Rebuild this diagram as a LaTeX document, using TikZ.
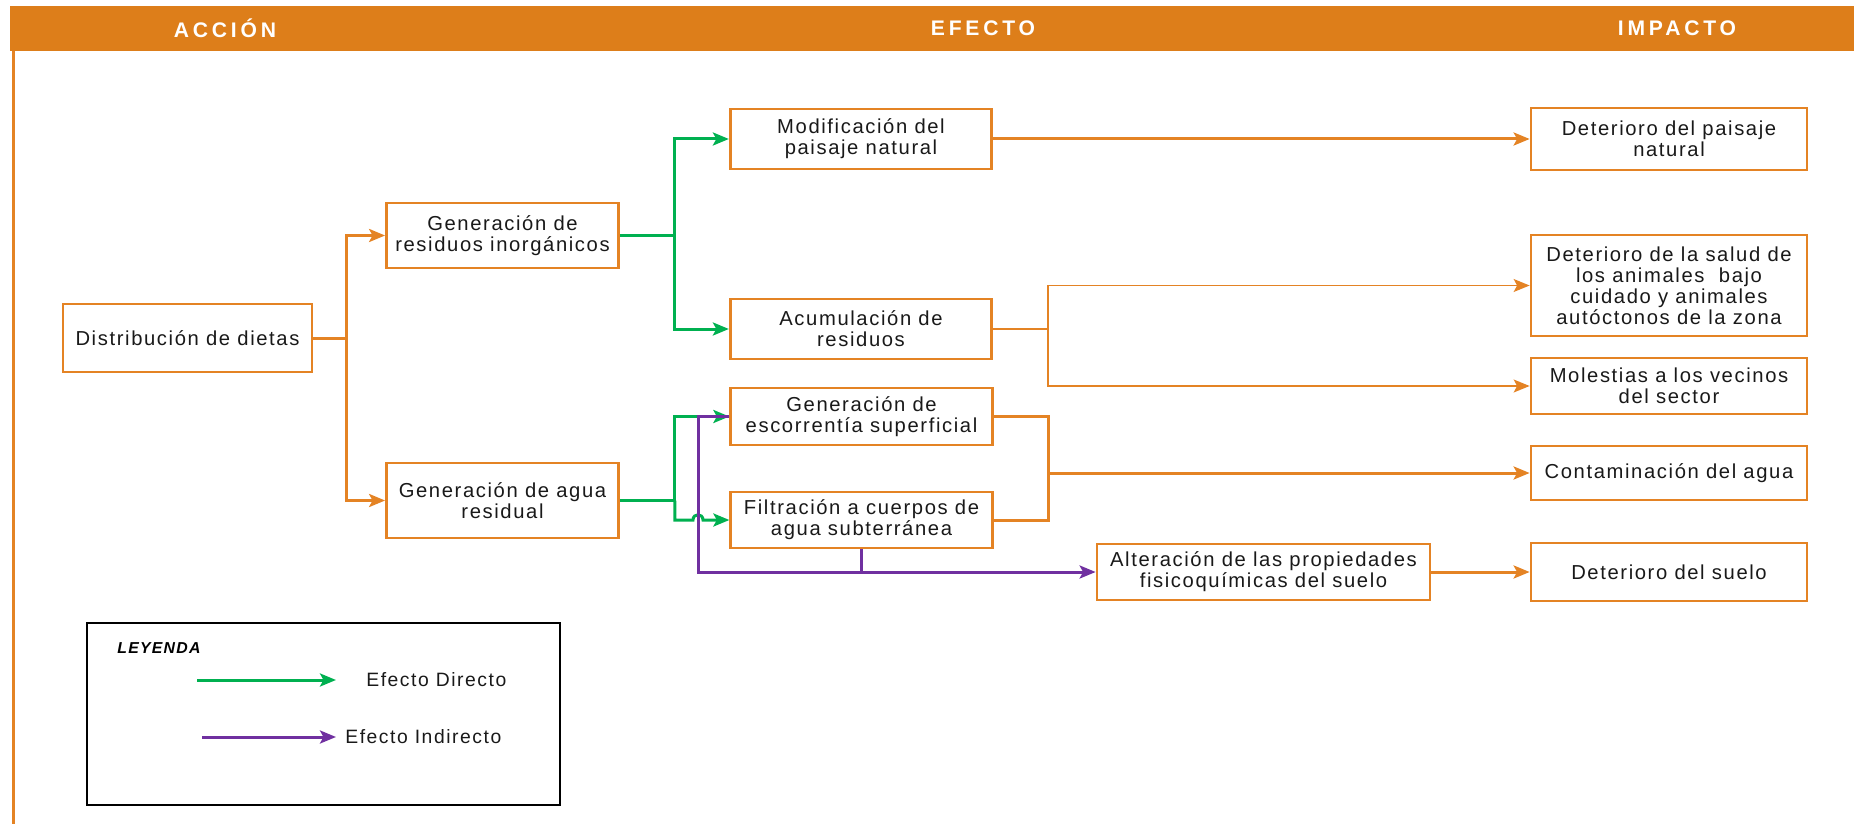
\documentclass[tikz,border=0pt]{standalone}
\usepackage{fontspec}
\setmainfont{Liberation Sans}[LetterSpace=8]
\newfontfamily\cabfont{Liberation Sans}[LetterSpace=18]
\usetikzlibrary{arrows.meta}
\definecolor{naranja}{RGB}{228,131,36}
\definecolor{cabecera}{RGB}{221,126,26}
\definecolor{verde}{RGB}{0,176,80}
\definecolor{morado}{RGB}{112,48,160}

\begin{document}
\begin{tikzpicture}[x=0.2mm,y=-0.2mm]
	\tikzstyle{caja}=[draw=naranja,line width=0.55mm,fill=white,align=center,inner sep=0pt,font=\fontsize{11.5}{11.9}\selectfont,text=black!90];
	\tikzstyle{efecto}=[caja,minimum width=52.3mm];
	\tikzstyle{impacto}=[caja,minimum width=55.2mm];
	\tikzstyle{punta}=[-{Stealth[length=3.2mm,width=2.6mm,inset=0.7mm]}];
	\tikzstyle{linea}=[draw=naranja,line width=0.6mm,punta];
	\tikzstyle{fina}=[draw=naranja,line width=0.3mm,punta];
	\tikzstyle{directo}=[draw=verde,line width=0.6mm,punta];
	\tikzstyle{indirecto}=[draw=morado,line width=0.6mm,punta];
	\tikzstyle{titulo}=[text=white,font=\cabfont\fontsize{12}{12}\selectfont\bfseries];
	\tikzstyle{texto}=[anchor=west,inner sep=0pt,font=\fontsize{11}{11.9}\selectfont,text=black!90];

	\useasboundingbox (0,0) rectangle (1854,824);

	% cabecera y marco
	\fill[cabecera] (10,6) rectangle (1854,51);
	\draw[naranja,line width=0.6mm] (13,51) -- (13,824);
	\node[titulo] (accion) at (225,28) {ACCIÓN};
	\node[titulo] (efect) at (983,28) {EFECTO};
	\node[titulo] (impact) at (1677,28) {IMPACTO};

	% acciones
	\node[caja,minimum width=49.8mm,minimum height=13.6mm] (dietas) at (187.5,338) {Distribución de dietas};
	\node[caja,minimum width=46.4mm,minimum height=13mm] (resid) at (502.5,235.5) {Generación de\\residuos inorgánicos};
	\node[caja,minimum width=46.4mm,minimum height=15mm] (agua) at (502.5,500.5) {Generación de agua\\residual};

	% efectos
	\node[efecto,minimum height=12mm] (modif) at (861,139) {Modificación del\\paisaje natural};
	\node[efecto,minimum height=12mm] (acum) at (861,329) {Acumulación de\\residuos};
	\node[efecto,minimum height=11.4mm] (esc) at (861.5,416.5) {Generación de\\escorrentía superficial};
	\node[efecto,minimum height=11.2mm] (filt) at (861.5,520) {Filtración a cuerpos de\\agua subterránea};
	\node[caja,minimum width=66.6mm,minimum height=11.2mm] (alter) at (1263.5,572) {Alteración de las propiedades\\fisicoquímicas del suelo};

	% impactos
	\node[impacto,minimum height=12.4mm] (paisaje) at (1669,139) {Deterioro del paisaje\\natural};
	\node[impacto,minimum height=20.2mm] (salud) at (1669,285.5) {Deterioro de la salud de\\los animales~ bajo\\cuidado y animales\\autóctonos de la zona};
	\node[impacto,minimum height=11.2mm] (molest) at (1669,386) {Molestias a los vecinos\\del sector};
	\node[impacto,minimum height=10.8mm] (contam) at (1669,473) {Contaminación del agua};
	\node[impacto,minimum height=11.6mm] (suelo) at (1669,572) {Deterioro del suelo};

	% conexiones
	\draw[linea] (dietas.east) -- ++(33,0) coordinate (b1) |- (resid.west);
	\draw[linea] (b1) |- (agua.west);
	\draw[directo] (resid.east) -- ++(55,0) coordinate (b2) |- (modif.west);
	\draw[directo] (b2) |- (acum.west);
	\draw[directo] (agua.east) -- ++(55,0) coordinate (b3) |- (esc.west);
	\coordinate (p1) at (698,416.5);
	\draw[directo] (b3) |- ([xshift=-1mm]p1 |- filt.west) .. controls +(0,-7) and +(0,-7) .. ++(10,0) -- (filt.west);
	\draw[indirecto] (esc.west) -- (p1) |- (alter.west);
	\draw[morado,line width=0.6mm] (filt.south) -- (filt.south |- alter.west);
	\draw[linea] (modif.east) -- (paisaje.west);
	\draw[fina] (acum.east) -- ++(55,0) coordinate (b4) |- (salud.west);
	\draw[fina] (b4) |- (molest.west);
	\draw[draw=naranja,line width=0.6mm] (esc.east) -- ++(55,0) coordinate (b5) |- (filt.east);
	\draw[linea] (b5 |- contam.west) -- (contam.west);
	\draw[linea] (alter.east) -- (suelo.west);

	% leyenda
	\draw[black,line width=0.3mm] (87,623) rectangle (560,805);
	\node[anchor=west,inner sep=0pt,font=\fontsize{9}{9}\selectfont\bfseries\itshape] (ley) at (117,648) {LEYENDA};
	\coordinate (d1) at (197,680);
	\coordinate (d2) at (336,680);
	\coordinate (i1) at (202,737);
	\coordinate (i2) at (336,737);
	\draw[directo] (d1) -- (d2);
	\draw[indirecto] (i1) -- (i2);
	\node[texto] (tdir) at (366,680) {Efecto Directo};
	\node[texto] (tind) at (345,737) {Efecto Indirecto};
\end{tikzpicture}
\end{document}
